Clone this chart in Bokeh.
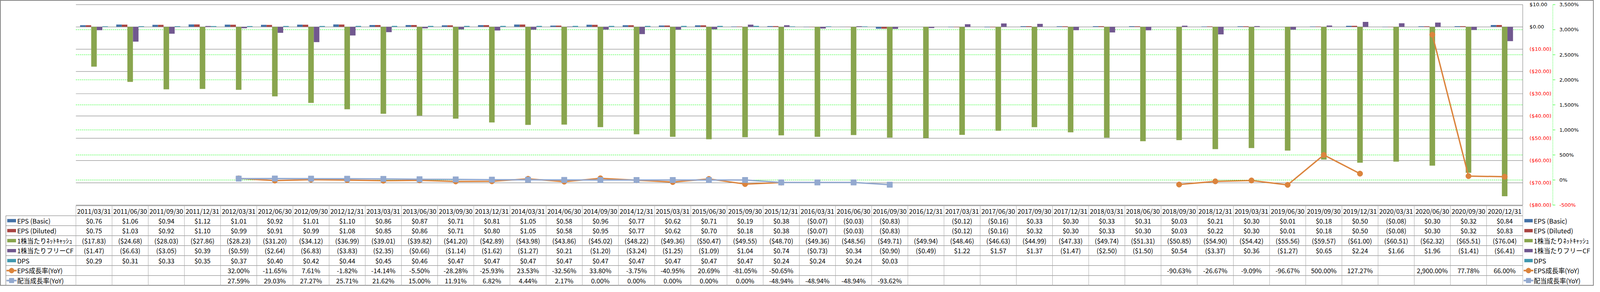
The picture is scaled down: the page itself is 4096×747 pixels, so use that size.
import math
from bokeh.plotting import figure
from bokeh.models import Range1d, ColumnDataSource
from bokeh.core.properties import value
from bokeh.embed import file_html
from bokeh.resources import INLINE

# ---------------- data ----------------
dates = ["2011/03/31", "2011/06/30", "2011/09/30", "2011/12/31",
         "2012/03/31", "2012/06/30", "2012/09/30", "2012/12/31",
         "2013/03/31", "2013/06/30", "2013/09/30", "2013/12/31",
         "2014/03/31", "2014/06/30", "2014/09/30", "2014/12/31",
         "2015/03/31", "2015/06/30", "2015/09/30", "2015/12/31",
         "2016/03/31", "2016/06/30", "2016/09/30", "2016/12/31",
         "2017/03/31", "2017/06/30", "2017/09/30", "2017/12/31",
         "2018/03/31", "2018/06/30", "2018/09/30", "2018/12/31",
         "2019/03/31", "2019/06/30", "2019/09/30", "2019/12/31",
         "2020/03/31", "2020/06/30", "2020/09/30", "2020/12/31"]

eps_basic = [0.76, 1.06, 0.94, 1.12, 1.01, 0.92, 1.01, 1.10, 0.86, 0.87, 0.71, 0.81,
             1.05, 0.58, 0.96, 0.77, 0.62, 0.71, 0.19, 0.38, -0.07, -0.03, -0.83, None,
             -0.12, -0.16, 0.33, 0.30, 0.33, 0.31, 0.03, 0.21, 0.30, 0.01, 0.18, 0.50,
             -0.08, 0.30, 0.32, 0.84]
eps_diluted = [0.75, 1.03, 0.92, 1.10, 0.99, 0.91, 0.99, 1.08, 0.85, 0.86, 0.71, 0.80,
               1.05, 0.58, 0.95, 0.77, 0.62, 0.70, 0.18, 0.38, -0.07, -0.03, -0.83, None,
               -0.12, -0.16, 0.32, 0.30, 0.33, 0.30, 0.03, 0.22, 0.30, 0.01, 0.18, 0.50,
               -0.08, 0.30, 0.32, 0.83]
net_cash = [-17.83, -24.68, -28.03, -27.86, -28.23, -31.20, -34.12, -36.99, -39.01, -39.82,
            -41.20, -42.89, -43.98, -43.86, -45.02, -48.22, -49.36, -50.47, -49.55, -48.70,
            -49.36, -48.56, -49.71, -49.94, -48.46, -46.63, -44.99, -47.33, -49.74, -51.31,
            -50.85, -54.90, -54.42, -55.56, -59.57, -61.00, -60.51, -62.32, -65.51, -76.04]
fcf = [-1.47, -6.63, -3.05, 0.39, -0.59, -2.64, -6.83, -3.83, -2.35, -0.66, -1.14, -1.62,
       -1.27, 0.21, -1.20, -3.24, -1.25, -1.09, 1.04, 0.74, -0.73, 0.34, -0.90, -0.49,
       1.22, 1.57, 1.37, -1.47, -2.50, -1.50, 0.54, -3.37, 0.36, -1.27, 0.65, 2.24,
       1.66, 1.96, -1.41, -6.41]
dps = [0.29, 0.31, 0.33, 0.35, 0.37, 0.40, 0.42, 0.44, 0.45, 0.46, 0.47, 0.47,
       0.47, 0.47, 0.47, 0.47, 0.47, 0.47, 0.47, 0.24, 0.24, 0.24, 0.03, None,
       None, None, None, None, None, None, None, None, None, None, None, None,
       None, None, None, None]
eps_growth = [None, None, None, None, 32.00, -11.65, 7.61, -1.82, -14.14, -5.50, -28.28, -25.93,
              23.53, -32.56, 33.80, -3.75, -40.95, 20.69, -81.05, -50.65, None, None, None, None,
              None, None, None, None, None, None, -90.63, -26.67, -9.09, -96.67, 500.00, 127.27,
              None, 2900.00, 77.78, 66.00]
div_growth = [None, None, None, None, 27.59, 29.03, 27.27, 25.71, 21.62, 15.00, 11.91, 6.82,
              4.44, 2.17, 0.00, 0.00, 0.00, 0.00, 0.00, -48.94, -48.94, -48.94, -93.62, None,
              None, None, None, None, None, None, None, None, None, None, None, None,
              None, None, None, None]

bar_names = ["EPS (Basic)", "EPS (Diluted)", "1株当たりﾈｯﾄｷｬｯｼｭ", "1株当たりフリーCF", "DPS"]
line_names = ["EPS成長率(YoY)", "配当成長率(YoY)"]
usd_ticks = [10, 0, -10, -20, -30, -40, -50, -60, -70, -80]
pct_ticks = [3500, 3000, 2500, 2000, 1500, 1000, 500, 0, -500]

# ---------------- styles / layout (reference pixel space) ----------------
bar_colors = ["#4572A7", "#AA4643", "#89A54E", "#71588F", "#4198AF"]
line_colors = ["#DB843D", "#93A9CF"]
REF_W, REF_H = 7052, 1286
W, H = 4080, 731
PLOT_L, PLOT_R = 335.0, 6737.0
PLOT_T, PLOT_B = 20.0, 922.0
TABLE_T, ROW_H = 925.0, 44.9
N = len(dates)
cat_w = (PLOT_R - PLOT_L) / N

def xpx(px):
    return -0.5 + (px - PLOT_L) / cat_w

usd_pp = (PLOT_B - PLOT_T) / (usd_ticks[0] - usd_ticks[-1])
pct_pp = (PLOT_B - PLOT_T) / (pct_ticks[0] - pct_ticks[-1])

x_range = Range1d(xpx(0), xpx(REF_W))
y_range = Range1d(usd_ticks[-1] - (REF_H - PLOT_B) / usd_pp, usd_ticks[0] + PLOT_T / usd_pp)

p = figure(width=W, height=H, x_range=x_range, y_range=y_range,
           output_backend="svg", toolbar_location=None, min_border=0,
           x_axis_location=None, y_axis_location=None)
p.extra_y_ranges = {
    "pct": Range1d(pct_ticks[-1] - (REF_H - PLOT_B) / pct_pp, pct_ticks[0] + PLOT_T / pct_pp),
    "tbl": Range1d((REF_H - TABLE_T) / ROW_H, -TABLE_T / ROW_H),
}
p.xgrid.visible = False
p.ygrid.visible = False
p.background_fill_color = "white"
p.border_fill_color = "white"
p.outline_line_color = "#868686"
p.outline_line_width = 3

GRID = "#8C8C8C"
LIME = "#00FF00"
x_lo, x_hi = -0.5, N - 0.5

# green dotted gridlines (secondary axis)
inner_pct = [t for t in pct_ticks if pct_ticks[-1] < t < pct_ticks[0]]
p.segment(x0=[x_lo] * len(inner_pct), x1=[x_hi] * len(inner_pct), y0=inner_pct, y1=inner_pct,
          line_color=LIME, line_width=1, line_dash="3 2", y_range_name="pct")
# gray gridlines (primary axis)
p.segment(x0=[x_lo] * len(usd_ticks), x1=[x_hi] * len(usd_ticks), y0=usd_ticks, y1=usd_ticks,
          line_color=GRID, line_width=1.2)
# right border of plot area
p.segment(x0=[x_hi], x1=[x_hi], y0=[usd_ticks[0]], y1=[usd_ticks[-1]], line_color=GRID, line_width=1.2)

# ---------------- bars ----------------
bar_w = 1.0 / 6.5
series = [eps_basic, eps_diluted, net_cash, fcf, dps]
def nz(v):
    return float("nan") if v is None else v
for k, (vals, col) in enumerate(zip(series, bar_colors)):
    off = (k - 2) * bar_w
    src = ColumnDataSource(dict(x=[i + off for i in range(N)], top=[nz(v) for v in vals]))
    p.vbar(x="x", top="top", bottom=0, width=bar_w, source=src, fill_color=col, line_color=None)

# ---------------- lines ----------------
g_src = ColumnDataSource(dict(x=list(range(N)), y=[nz(v) for v in eps_growth]))
p.line("x", "y", source=g_src, line_color=line_colors[0], line_width=3.5, y_range_name="pct")
p.scatter("x", "y", source=g_src, marker="circle", size=14, fill_color=line_colors[0],
          line_color=line_colors[0], y_range_name="pct")
d_src = ColumnDataSource(dict(x=list(range(N)), y=[nz(v) for v in div_growth]))
p.line("x", "y", source=d_src, line_color=line_colors[1], line_width=3.5, y_range_name="pct")
p.scatter("x", "y", source=d_src, marker="square", size=14, fill_color=line_colors[1],
          line_color=line_colors[1], y_range_name="pct")

# ---------------- right axes ----------------
AX_FONT = value("DejaVu Sans")
def fmt_usd(v):
    if v is None:
        return ""
    return "(${:,.2f})".format(abs(v)) if v < 0 else "${:,.2f}".format(v)
def fmt_pct(v):
    if v is None:
        return ""
    return "{:,.2f}%".format(v)

p.text(x=[xpx(6767)] * len(usd_ticks), y=usd_ticks, text=[fmt_usd(t) for t in usd_ticks],
       text_color=["#000000" if t >= 0 else "#FF0000" for t in usd_ticks],
       text_font=AX_FONT, text_font_size="13px", text_align="left", text_baseline="middle")
ax_x = xpx(6870)
p.segment(x0=[ax_x], x1=[ax_x], y0=[pct_ticks[-1]], y1=[pct_ticks[0]], line_color=LIME,
          line_width=1, line_dash="2 2", y_range_name="pct")
p.segment(x0=[ax_x] * len(pct_ticks), x1=[xpx(6881)] * len(pct_ticks), y0=pct_ticks, y1=pct_ticks,
          line_color=LIME, line_width=1, y_range_name="pct")
p.text(x=[xpx(6899)] * len(pct_ticks), y=pct_ticks, text=["{:,}%".format(t) for t in pct_ticks],
       text_color=["#000000" if t >= 0 else "#FF0000" for t in pct_ticks],
       text_font=AX_FONT, text_font_size="13px", text_align="left", text_baseline="middle",
       y_range_name="pct")

# ---------------- data table ----------------
TFONT = value("Noto Sans CJK JP")
TSIZE = "16.5px"
nrows = 1 + len(bar_names) + len(line_names)
tbl_left = xpx(25)
# horizontal lines
p.segment(x0=[x_lo] + [tbl_left] * nrows, x1=[x_hi] * (nrows + 1),
          y0=list(range(nrows + 1)), y1=list(range(nrows + 1)),
          line_color="#8C8C8C", line_width=1.3, y_range_name="tbl")
# vertical lines
vx = [x_lo + i for i in range(N + 1)]
p.segment(x0=vx, x1=vx, y0=[0] * len(vx), y1=[nrows] * len(vx),
          line_color="#A6A6A6", line_width=1, y_range_name="tbl")
p.segment(x0=[tbl_left], x1=[tbl_left], y0=[1], y1=[nrows], line_color="#8C8C8C",
          line_width=1.3, y_range_name="tbl")

# header + cells
tx, ty, tt = [], [], []
for i, d in enumerate(dates):
    tx.append(i); ty.append(0.52); tt.append(d)
for r, vals in enumerate(series):
    for i, v in enumerate(vals):
        if v is not None:
            tx.append(i); ty.append(r + 1.5); tt.append(fmt_usd(v))
for r, vals in enumerate([eps_growth, div_growth]):
    for i, v in enumerate(vals):
        if v is not None:
            tx.append(i); ty.append(len(series) + r + 1.5); tt.append(fmt_pct(v))
p.text(x=tx, y=ty, text=tt, text_font=TFONT, text_font_size=TSIZE, text_color="#000000",
       text_align="center", text_baseline="middle", y_range_name="tbl")

# legend keys (left column and right column)
all_names = bar_names + line_names
rows_mid = [r + 1.5 for r in range(len(all_names))]
for key_l, key_r, text_x in [(31, 70, 75), (6744, 6781, 6786)]:
    cx = xpx((key_l + key_r) / 2)
    p.rect(x=[cx] * len(bar_names), y=rows_mid[:len(bar_names)], width=(key_r - key_l) / cat_w,
           height=15 / ROW_H, fill_color=bar_colors, line_color=None, y_range_name="tbl")
    ly = rows_mid[len(bar_names):]
    p.segment(x0=[xpx(key_l - 3)] * 2, x1=[xpx(key_r + 3)] * 2, y0=ly, y1=ly,
              line_color=line_colors, line_width=4, y_range_name="tbl")
    p.scatter(x=[cx], y=[ly[0]], marker="circle", size=13, fill_color=line_colors[0],
              line_color=line_colors[0], y_range_name="tbl")
    p.scatter(x=[cx], y=[ly[1]], marker="square", size=12, fill_color=line_colors[1],
              line_color=line_colors[1], y_range_name="tbl")
    p.text(x=[xpx(text_x)] * len(all_names), y=rows_mid, text=all_names, text_font=TFONT,
           text_font_size=TSIZE, text_color="#000000", text_align="left", text_baseline="middle",
           y_range_name="tbl")

open("out.html", "w").write(file_html(p, INLINE))
